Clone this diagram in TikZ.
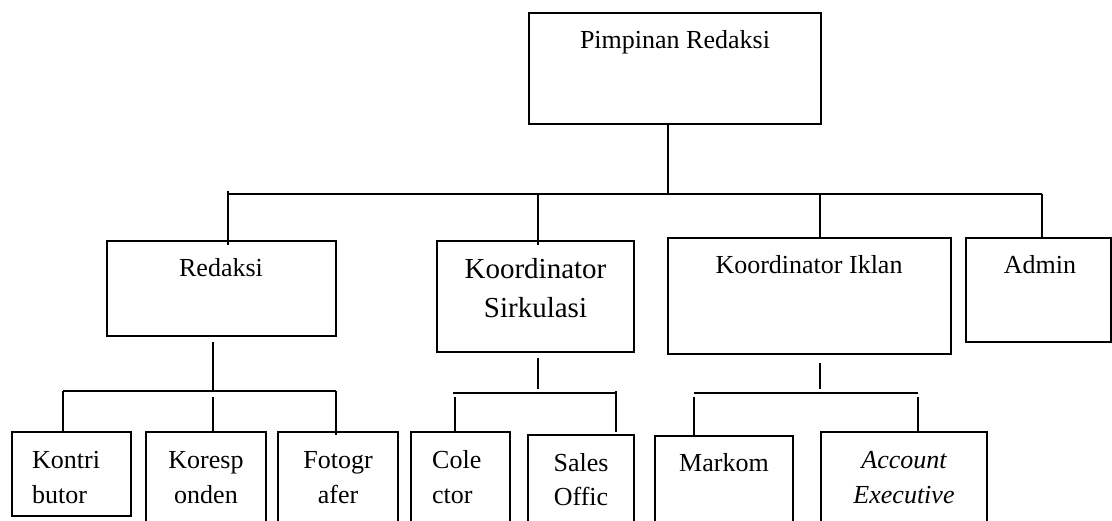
\documentclass[tikz,border=0pt]{standalone}
\usepackage{fontspec}
\setmainfont{Liberation Serif}
\newcommand\orgbox[5]{\node[box,minimum width={#4pt-#2pt},minimum height={#5pt-#3pt}] (#1) at ({(#2+#4)/2},{(#3+#5)/2}) {};}
\begin{document}
\begin{tikzpicture}[x=1pt,y=-1pt,
  box/.style={draw,line width=1.4pt,inner sep=0pt,outer sep=0pt},
  ln/.style={line width=1.4pt},
  lbl/.style={anchor=base,inner sep=0pt,font=\fontsize{26}{35}\selectfont,align=center},
  lbll/.style={anchor=base west,inner sep=0pt,font=\fontsize{26}{35}\selectfont,align=left}]
\clip (0,0) rectangle (1112,520);
\fill[white] (0,0) rectangle (1112,520);
% boxes
\orgbox{pim}{529}{13}{821}{124}
\orgbox{red}{107}{241}{336}{336}
\orgbox{sir}{437}{241}{634}{352}
\orgbox{ikl}{668}{238}{951}{354}
\orgbox{adm}{966}{238}{1111}{342}
\orgbox{kon}{12}{432}{131}{516}
\orgbox{kor}{146}{432}{266}{540}
\orgbox{fot}{278}{432}{398}{540}
\orgbox{col}{411}{432}{510}{540}
\orgbox{sal}{528}{435}{634}{540}
\orgbox{mar}{655}{436}{793}{540}
\orgbox{acc}{821}{432}{987}{540}
% texts (multi-line nodes: base = last line)
\node[lbl] (tpim) at (675,48) {Pimpinan Redaksi};
\node[lbl] (tred) at (221,276) {Redaksi};
\node[lbl,font=\fontsize{29}{39}\selectfont] (tsir) at (535.5,317) {Koordinator\\Sirkulasi};
\node[lbl] (tikl) at (809,273) {Koordinator Iklan};
\node[lbl] (tadm) at (1040,273) {Admin};
\node[lbll] (tkon) at (32,503) {Kontri\\butor};
\node[lbl] (tkor) at (206,503) {Koresp\\onden};
\node[lbl] (tfot) at (338,503) {Fotogr\\afer};
\node[lbll] (tcol) at (432,503) {Cole\\ctor};
\node[lbl,font=\fontsize{26}{34}\selectfont] (tsal) at (581,505) {Sales\\Offic};
\node[lbl] (tmar) at (724,471) {Markom};
\node[lbl,font=\fontsize{26}{35}\selectfont\itshape] (tacc) at (904,503) {Account\\Executive};
% main bus
\coordinate (pimdown) at (668,124);
\coordinate (busL) at (228,194);
\coordinate (busR) at (1042,194);
\coordinate (busM) at (668,194);
\draw[ln] (pimdown) -- (busM);
\draw[ln] (busL) -- (busR);
\draw[ln] (228,191) -- (228,245);
\draw[ln] (538,194) -- (538,245);
\draw[ln] (820,194) -- (ikl.north -| 820,0);
\draw[ln] (busR) -- (adm.north -| busR);
% Redaksi subtree
\coordinate (rbus) at (213,391);
\draw[ln] (213,342) -- (rbus);
\draw[ln] (63,391) -- (336,391);
\draw[ln] (63,391) -- (kon.north -| 63,0);
\draw[ln] (213,397) -- (kor.north -| 213,0);
\draw[ln] (336,391) -- (336,435);
% Sirkulasi subtree
\draw[ln] (538,358) -- (538,389);
\draw[ln] (453,393) -- (617,393);
\draw[ln] (455,397) -- (col.north -| 455,0);
\draw[ln] (616,391) -- (616,432);
% Iklan subtree
\draw[ln] (820,363) -- (820,389);
\draw[ln] (694,393) -- (918,393);
\draw[ln] (694,397) -- (mar.north -| 694,0);
\draw[ln] (918,397) -- (acc.north -| 918,0);
\end{tikzpicture}
\end{document}
